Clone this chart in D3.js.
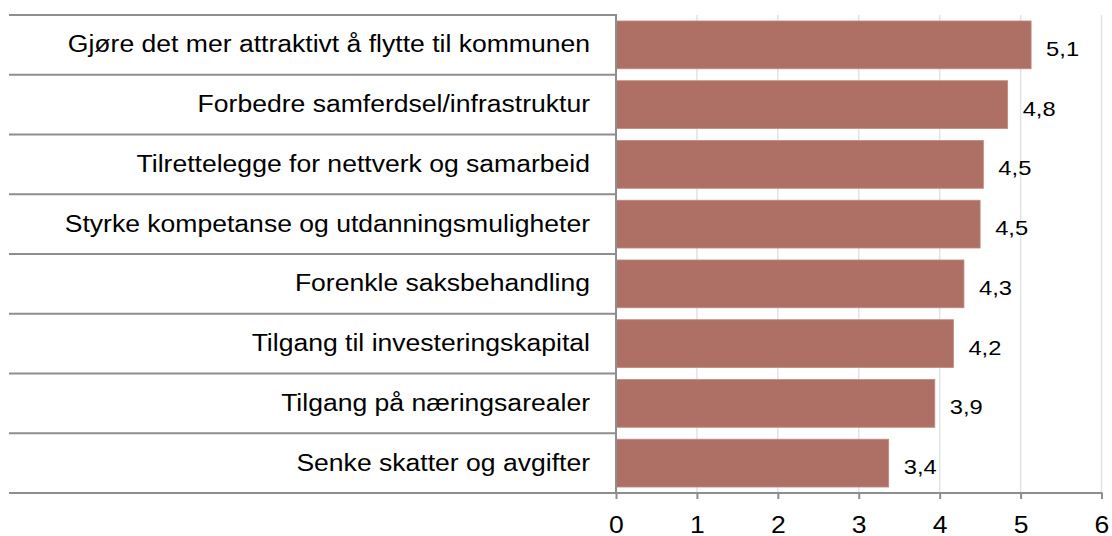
<!DOCTYPE html>
<html>
<head>
<meta charset="utf-8">
<script src="https://cdn.jsdelivr.net/npm/d3@7"></script>
<style>
  body { margin: 0; background: #fff; }
  svg { display: block; font-family: "Liberation Sans", Arial, sans-serif; }
</style>
</head>
<body>
<div id="chart"></div>
<script>
var svgWidth = 1112;
var svgHeight = 536;

// data
var categories = [
  "Gjøre det mer attraktivt å flytte til kommunen",
  "Forbedre samferdsel/infrastruktur",
  "Tilrettelegge for nettverk og samarbeid",
  "Styrke kompetanse og utdanningsmuligheter",
  "Forenkle saksbehandling",
  "Tilgang til investeringskapital",
  "Tilgang på næringsarealer",
  "Senke skatter og avgifter"
];
var values = [5.13, 4.84, 4.54, 4.50, 4.30, 4.17, 3.94, 3.37];
var xTicks = [0, 1, 2, 3, 4, 5, 6];

var data = categories.map(function(c, i) { return { cat: c, val: values[i] }; });

var x0 = 616, x1 = 1101.5, yTop = 15, yBottom = 493;
var stretch = 1.13; // the original text is a bit wider than Liberation Sans

var svg = d3.select("#chart")
  .append("svg")
  .attr("width", svgWidth)
  .attr("height", svgHeight);

var xScale = d3.scaleLinear()
  .domain([0, 6])
  .range([x0, x1]);

var yScale = d3.scaleBand()
  .domain(categories)
  .range([yTop, yBottom])
  .paddingInner(0.2)
  .paddingOuter(0.1);

var step = yScale.step();
function rowTop(c) { return yScale(c) - yScale.paddingOuter() * step; }

// gridlines
svg.append("g")
  .selectAll("line")
  .data(xTicks.slice(1))
  .enter()
  .append("line")
  .attr("x1", d => xScale(d))
  .attr("x2", d => xScale(d))
  .attr("y1", yTop)
  .attr("y2", yBottom)
  .attr("stroke", "#dfe4e4")
  .attr("stroke-width", 1.5);

// row separators on the left (category table)
var seps = categories.map(rowTop);
svg.append("g")
  .selectAll("line")
  .data(seps)
  .enter()
  .append("line")
  .attr("x1", 9)
  .attr("x2", x0)
  .attr("y1", d => d)
  .attr("y2", d => d)
  .attr("stroke", "#8e8e8e")
  .attr("stroke-width", 2);

// bars
svg.append("g")
  .selectAll("rect")
  .data(data)
  .enter()
  .append("rect")
  .attr("x", xScale(0))
  .attr("y", d => yScale(d.cat))
  .attr("width", d => xScale(d.val) - xScale(0))
  .attr("height", yScale.bandwidth())
  .attr("fill", "#ae7065")
  .attr("stroke", "#c08a80")
  .attr("stroke-width", 0.8);

// value labels
var fmt = d3.format(".1f");
svg.append("g")
  .selectAll("text")
  .data(data)
  .enter()
  .append("text")
  .attr("transform", d => `translate(${xScale(d.val) + 15}, ${yScale(d.cat) + yScale.bandwidth() / 2 + 11}) scale(${stretch}, 1)`)
  .attr("font-size", 21)
  .attr("fill", "#000")
  .text(d => fmt(d.val).replace(".", ","));

// category labels
svg.append("g")
  .selectAll("text")
  .data(data)
  .enter()
  .append("text")
  .attr("transform", d => `translate(590, ${yScale(d.cat) + yScale.bandwidth() / 2 + 7.5}) scale(${stretch}, 1)`)
  .attr("text-anchor", "end")
  .attr("font-size", 23.5)
  .attr("fill", "#000")
  .text(d => d.cat);

// bottom axis
var bottomAxis = d3.axisBottom(xScale)
  .tickValues(xTicks)
  .tickSize(6)
  .tickPadding(0)
  .tickFormat(d3.format("d"));

var axisG = svg.append("g")
  .attr("transform", `translate(0, ${yBottom})`)
  .call(bottomAxis);
axisG.select(".domain").remove();
axisG.selectAll(".tick line").attr("stroke", "#8e8e8e").attr("stroke-width", 2);
axisG.selectAll(".tick text")
  .attr("y", null)
  .attr("dy", null)
  .attr("transform", `translate(0, 40) scale(${stretch}, 1)`)
  .attr("font-size", 23.5)
  .attr("font-family", "Liberation Sans, Arial, sans-serif")
  .attr("fill", "#000");

// axis lines
svg.append("line")
  .attr("x1", 9).attr("x2", x1 + 1)
  .attr("y1", yBottom).attr("y2", yBottom)
  .attr("stroke", "#8e8e8e").attr("stroke-width", 2);

svg.append("line")
  .attr("x1", x0).attr("x2", x0)
  .attr("y1", yTop - 1).attr("y2", yBottom)
  .attr("stroke", "#8e8e8e").attr("stroke-width", 2);
</script>
</body>
</html>
